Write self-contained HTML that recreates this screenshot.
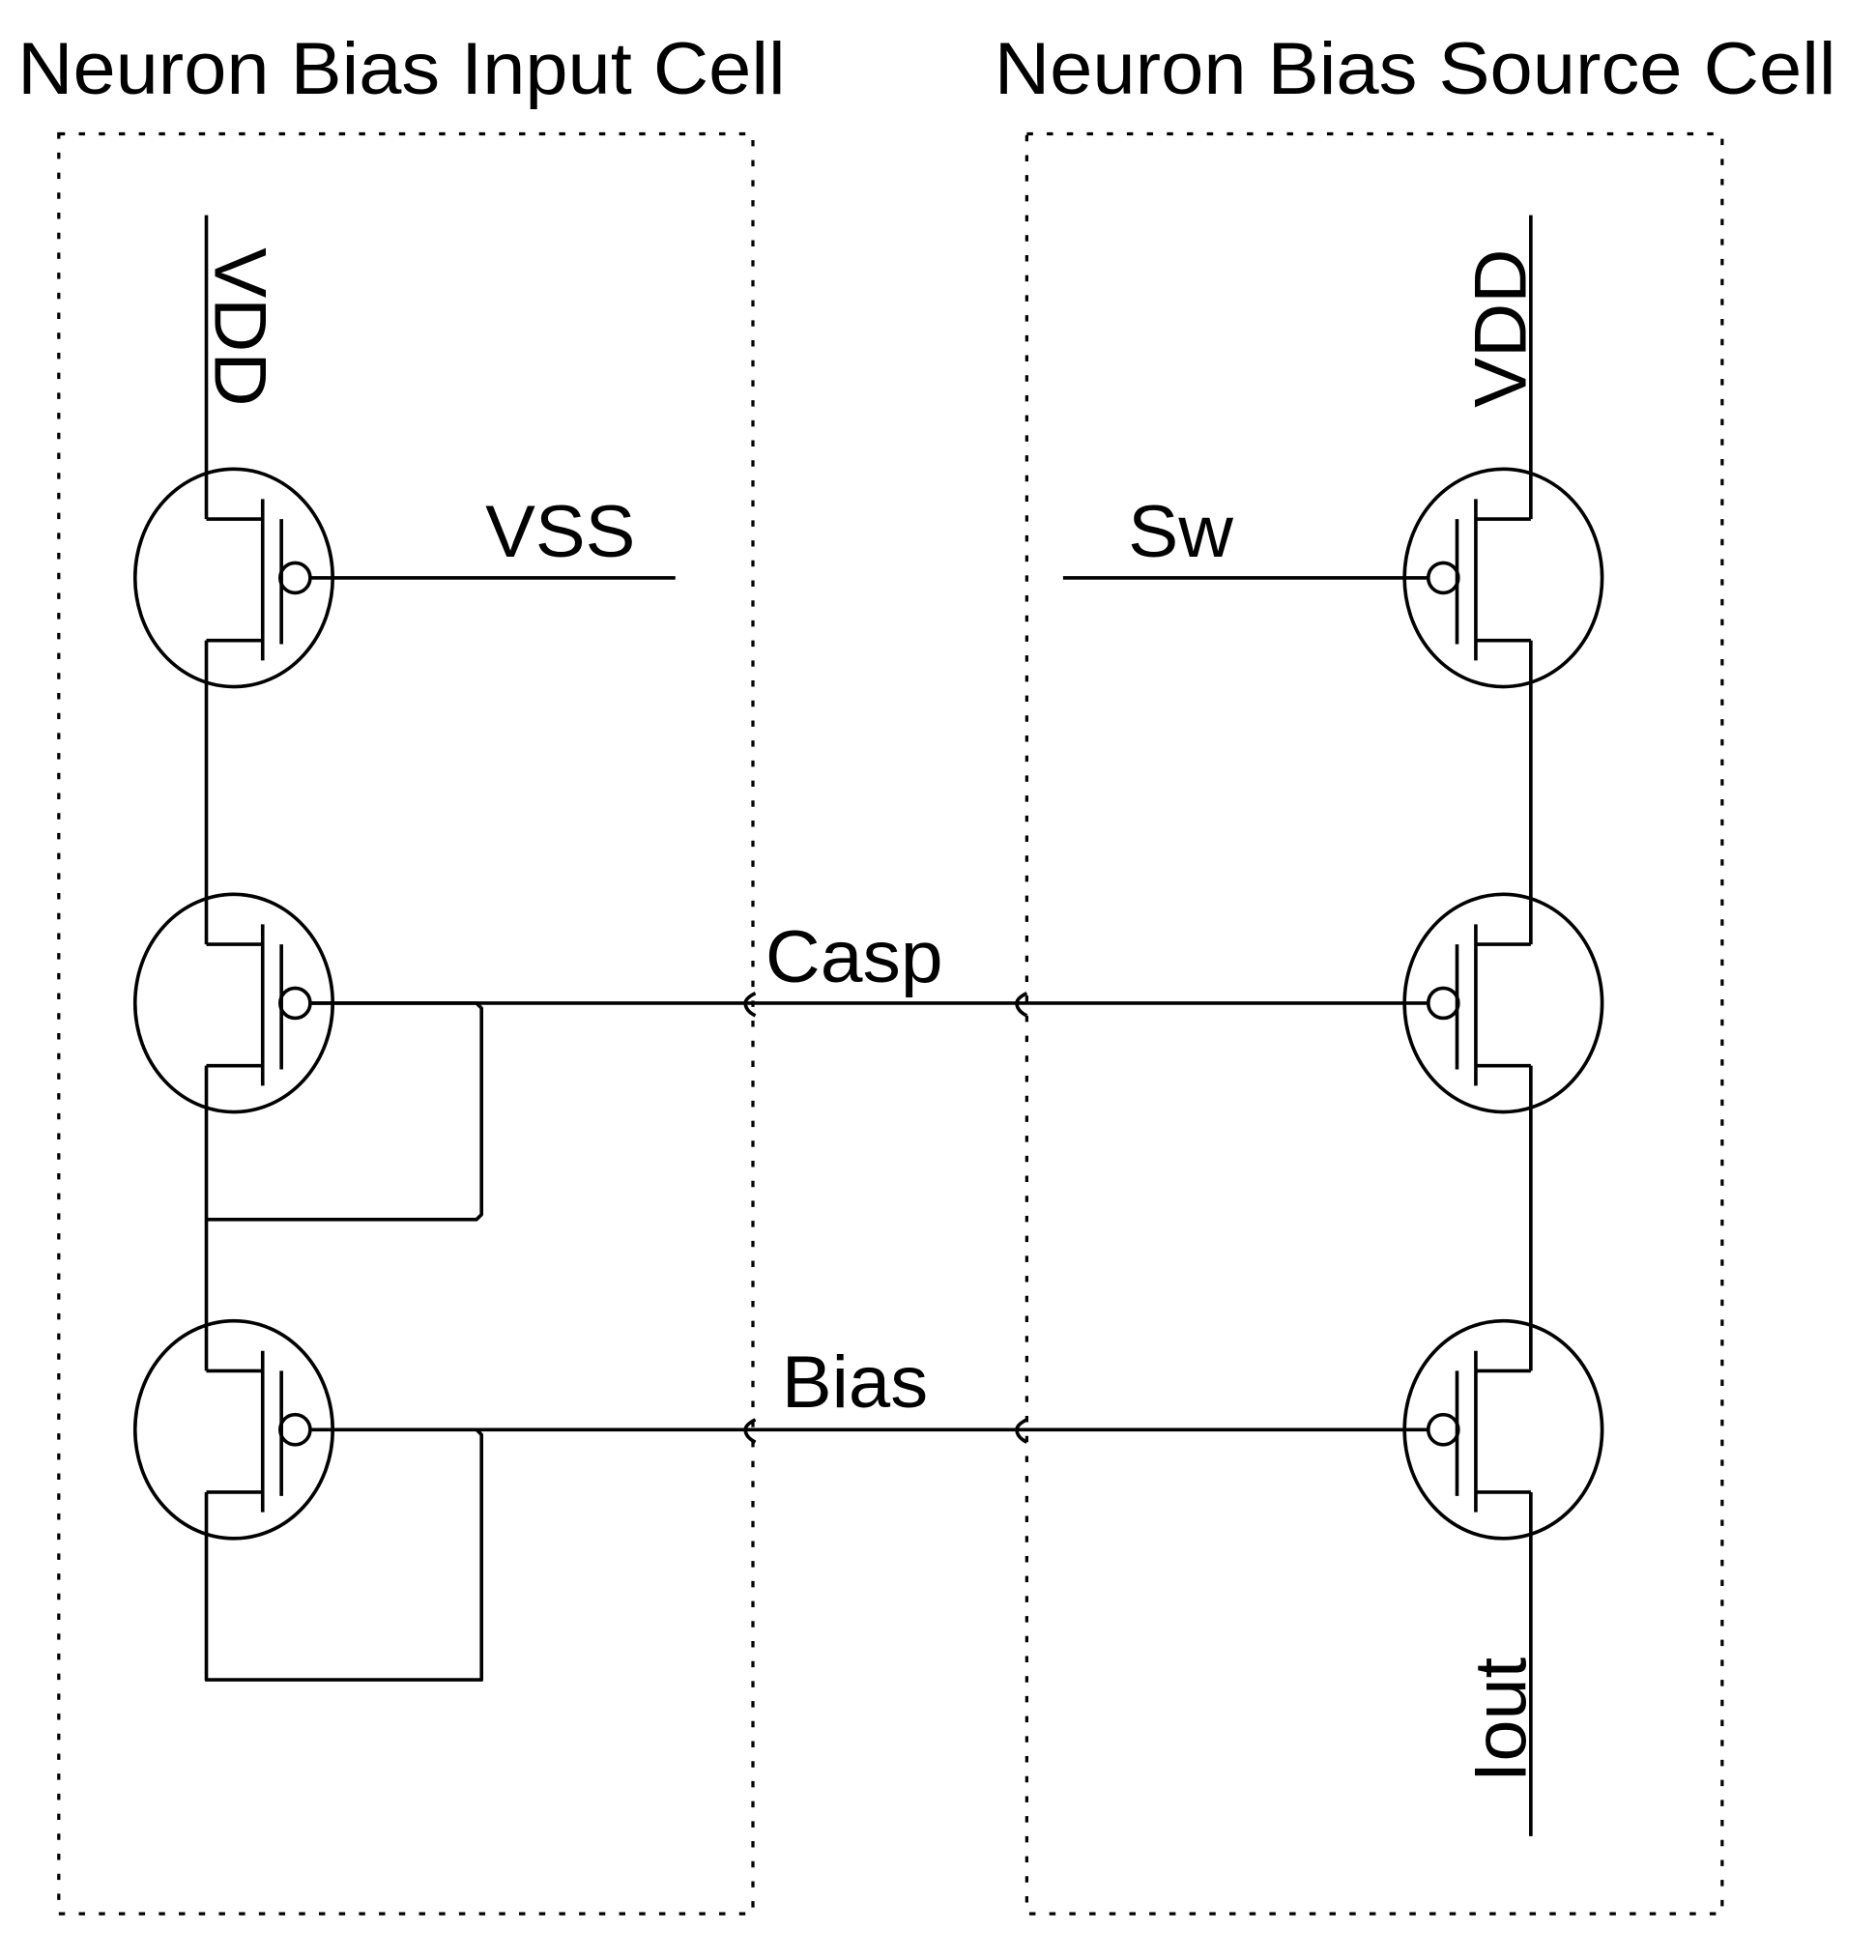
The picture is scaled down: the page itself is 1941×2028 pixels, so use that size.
<!DOCTYPE html>
<html><head><style>html,body{margin:0;padding:0;background:#fff}svg{display:block}</style></head>
<body>
<svg width="1941" height="2028" viewBox="0 0 1500 1567" preserveAspectRatio="none" xmlns="http://www.w3.org/2000/svg">
<g font-family="Liberation Sans, sans-serif" font-size="59" fill="#000">
<text x="14" y="75" textLength="614" lengthAdjust="spacingAndGlyphs">Neuron Bias Input Cell</text>
<text x="795" y="75" textLength="673" lengthAdjust="spacingAndGlyphs">Neuron Bias Source Cell</text>
<text x="388" y="445" textLength="120" lengthAdjust="spacingAndGlyphs">VSS</text>
<text x="902" y="445" textLength="84" lengthAdjust="spacingAndGlyphs">Sw</text>
<text x="612" y="785" textLength="142" lengthAdjust="spacingAndGlyphs">Casp</text>
<text x="625" y="1125" textLength="117" lengthAdjust="spacingAndGlyphs">Bias</text>
<text transform="translate(172,198) rotate(90)" textLength="127" lengthAdjust="spacingAndGlyphs">VDD</text>
<text transform="translate(1220,326) rotate(-90)" textLength="127" lengthAdjust="spacingAndGlyphs">VDD</text>
<text transform="translate(1220,1425) rotate(-90)" textLength="100" lengthAdjust="spacingAndGlyphs">Iout</text>
</g>
<g fill="none" stroke="#000" stroke-width="2.5" stroke-dasharray="5 11">
<rect x="47" y="107" width="555" height="1423"/>
<rect x="821" y="107" width="556" height="1423"/>
</g>
<defs>
<g id="tl" fill="none" stroke="#000" stroke-width="2.8">
<ellipse cx="187" cy="0" rx="79" ry="87"/>
<polyline points="165,-47 210,-47"/>
<polyline points="165,50 210,50"/>
<line x1="210" y1="-63" x2="210" y2="66"/>
<line x1="225" y1="-47" x2="225" y2="53"/>
<circle cx="236" cy="0" r="12"/>
</g>
<g id="tr" fill="none" stroke="#000" stroke-width="2.8">
<ellipse cx="1202" cy="0" rx="79" ry="87"/>
<polyline points="1224,-47 1180,-47"/>
<polyline points="1224,50 1180,50"/>
<line x1="1180" y1="-63" x2="1180" y2="66"/>
<line x1="1165" y1="-47" x2="1165" y2="53"/>
<circle cx="1154" cy="0" r="12"/>
</g>
</defs>
<use href="#tl" y="462"/><use href="#tl" y="802"/><use href="#tl" y="1143"/>
<use href="#tr" y="462"/><use href="#tr" y="802"/><use href="#tr" y="1143"/>
<g fill="none" stroke="#000" stroke-width="2.8" stroke-linejoin="round">
<line x1="165" y1="172" x2="165" y2="415"/>
<line x1="165" y1="512" x2="165" y2="755"/>
<line x1="165" y1="852" x2="165" y2="1096"/>
<polyline points="165,1193 165,1343 385,1343 385,1147 381,1143"/>
<polyline points="248,802 381,802 385,806 385,971 381,975 165,975"/>
<line x1="248" y1="462" x2="540" y2="462"/>
<line x1="850" y1="462" x2="1142" y2="462"/>
<line x1="248" y1="802" x2="1142" y2="802"/>
<line x1="248" y1="1143" x2="1142" y2="1143"/>
<line x1="1224" y1="172" x2="1224" y2="415"/>
<line x1="1224" y1="512" x2="1224" y2="755"/>
<line x1="1224" y1="852" x2="1224" y2="1096"/>
<line x1="1224" y1="1193" x2="1224" y2="1468"/>
<path d="M604,794 Q596,798 596,802 Q596,808 604,812"/>
<path d="M821,794 Q813,798 813,802 Q813,808 821,812"/>
<path d="M604,1135 Q596,1139 596,1143 Q596,1149 604,1153"/>
<path d="M821,1135 Q813,1139 813,1143 Q813,1149 821,1153"/>
</g>
</svg>
</body></html>
